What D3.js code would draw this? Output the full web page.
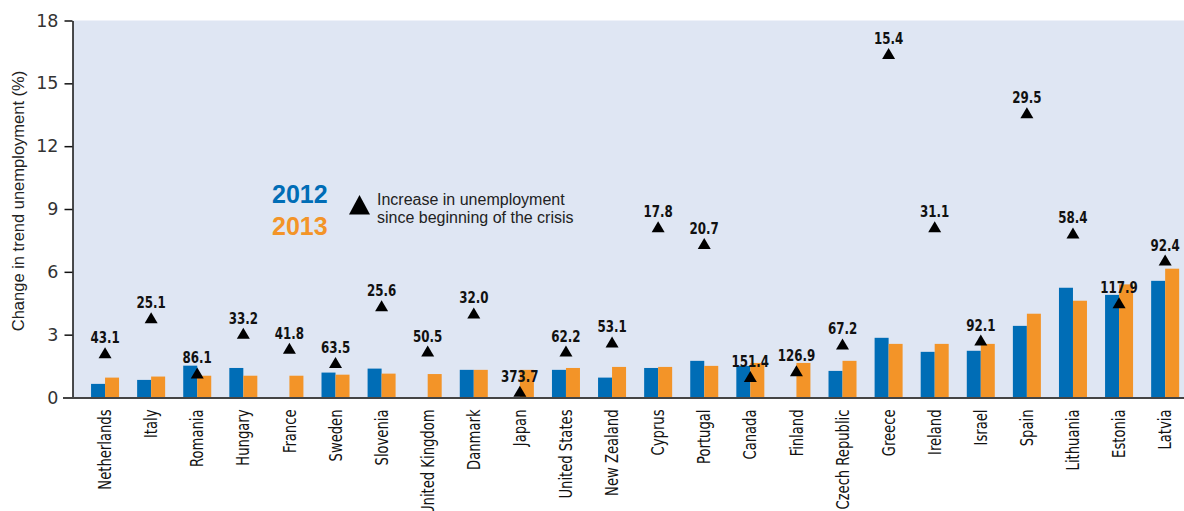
<!DOCTYPE html>
<html>
<head>
<meta charset="utf-8">
<script src="https://cdn.jsdelivr.net/npm/d3@7"></script>
<style>
  html, body { margin: 0; padding: 0; background: #ffffff; }
  svg { display: block; }
</style>
</head>
<body>
<svg id="chart" width="1184" height="511"></svg>
<script>
const countries = ["Netherlands","Italy","Romania","Hungary","France","Sweden","Slovenia","United Kingdom","Danmark","Japan","United States","New Zealand","Cyprus","Portugal","Canada","Finland","Czech Republic","Greece","Ireland","Israel","Spain","Lithuania","Estonia","Latvia"];
const values2012 = [0.65,0.84,1.52,1.41,null,1.19,1.38,null,1.32,null,1.32,0.95,1.41,1.75,1.51,null,1.27,2.85,2.18,2.23,3.42,5.24,4.9,5.57];
const values2013 = [0.95,1.0,1.04,1.04,1.04,1.09,1.14,1.12,1.32,1.32,1.41,1.46,1.46,1.51,1.65,1.65,1.75,2.56,2.56,2.56,4.0,4.62,5.4,6.15];
const triangleValues = [2.14,3.81,1.17,3.07,2.35,1.67,4.38,2.22,4.04,0.3,2.22,2.65,8.15,7.35,1.0,1.28,2.56,16.43,8.15,2.74,13.6,7.86,4.52,6.56];
const triangleLabels = ["43.1","25.1","86.1","33.2","41.8","63.5","25.6","50.5","32.0","373.7","62.2","53.1","17.8","20.7","151.4","126.9","67.2","15.4","31.1","92.1","29.5","58.4","117.9","92.4"];
const yTicks = [0,3,6,9,12,15,18];
const seriesNames = ["2012","2013"];
const yAxisTitle = "Change in trend unemployment (%)";
const legendText = ["Increase in unemployment","since beginning of the crisis"];

const colors = { "2012": "#006db6", "2013": "#f39428" };
const condensed = "'Liberation Sans Narrow','DejaVu Sans Condensed','Arial Narrow',sans-serif";

const svg = d3.select("#chart");

const plot = { left: 73, right: 1184, top: 20.5, bottom: 397.5 };

const y = d3.scaleLinear().domain([0, 18]).range([plot.bottom, plot.top]);
const x = d3.scaleBand().domain(countries).range([82, 1188.2]).paddingInner(0.3925).paddingOuter(0.19625);
const x1 = d3.scaleBand().domain(seriesNames).range([0, x.bandwidth()]);

// background
svg.append("rect")
  .attr("x", plot.left).attr("y", y(18))
  .attr("width", plot.right - plot.left).attr("height", y(0) - y(18))
  .attr("fill", "#dfe6f3");

// bars
const rows = countries.map((c, i) => ({ c, v: { "2012": values2012[i], "2013": values2013[i] } }));
const g = svg.append("g");
rows.forEach(r => {
  seriesNames.forEach(s => {
    const v = r.v[s];
    if (v == null) return;
    g.append("rect")
      .attr("x", x(r.c) + x1(s))
      .attr("y", y(v))
      .attr("width", x1.bandwidth())
      .attr("height", y(0) - y(v))
      .attr("fill", colors[s]);
  });
});

// y axis
const yAxis = d3.axisLeft(y).tickValues(yTicks).tickSize(8).tickSizeOuter(0).tickPadding(6);
const ya = svg.append("g").attr("transform", `translate(${plot.left - 0.5},0)`).call(yAxis);
ya.select(".domain").attr("stroke", "#111").attr("stroke-width", 1.5);
ya.selectAll(".tick line").attr("stroke", "#111").attr("stroke-width", 1.5);
ya.selectAll(".tick text")
  .attr("font-family", "'DejaVu Sans', sans-serif")
  .attr("font-size", 17.5)
  .attr("fill", "#333");

// bottom axis line
svg.append("line")
  .attr("x1", 63).attr("x2", 1184)
  .attr("y1", y(0) + 0.5).attr("y2", y(0) + 0.5)
  .attr("stroke", "#444").attr("stroke-width", 2);

// x labels
const xAxis = d3.axisBottom(x).tickSize(0).tickSizeOuter(0);
const xa = svg.append("g").attr("transform", `translate(0,${y(0)})`).call(xAxis);
xa.select(".domain").remove();
xa.selectAll(".tick text")
  .attr("font-family", condensed)
  .attr("font-size", 17)
  .attr("fill", "#111")
  .attr("text-anchor", "end")
  .attr("transform", "translate(0,12) rotate(-90) scale(0.86,1)")
  .attr("x", 0).attr("y", 0).attr("dy", "0.36em");

// triangles
const tri = svg.append("g");
countries.forEach((c, i) => {
  const cx = x(c) + x.bandwidth() / 2;
  const cy = y(triangleValues[i]);
  tri.append("path")
    .attr("d", `M${cx - 6.5},${cy + 5.5}L${cx},${cy - 5.5}L${cx + 6.5},${cy + 5.5}Z`)
    .attr("fill", "#000");
  tri.append("text")
    .attr("transform", `translate(${cx},${cy - 9.5}) scale(0.88,1)`)
    .attr("text-anchor", "middle")
    .attr("font-family", condensed)
    .attr("font-weight", "bold")
    .attr("font-size", 15)
    .attr("fill", "#111")
    .text(triangleLabels[i]);
});

// y axis title
svg.append("text")
  .attr("transform", `translate(24,${(plot.top + plot.bottom) / 2 - 8}) rotate(-90)`)
  .attr("text-anchor", "middle")
  .attr("font-family", "'Liberation Sans', sans-serif")
  .attr("font-size", 16.5)
  .attr("fill", "#222")
  .text(yAxisTitle);

// legend
const leg = svg.append("g");
leg.append("text").attr("x", 272).attr("y", 203)
  .attr("font-family", "'Liberation Sans', sans-serif").attr("font-weight", "bold").attr("font-size", 25)
  .attr("fill", colors["2012"]).text(seriesNames[0]);
leg.append("text").attr("x", 272).attr("y", 234.5)
  .attr("font-family", "'Liberation Sans', sans-serif").attr("font-weight", "bold").attr("font-size", 25)
  .attr("fill", colors["2013"]).text(seriesNames[1]);
leg.append("path").attr("d", "M349,214.5L359.5,195L370,214.5Z").attr("fill", "#000");
legendText.forEach((t, i) => {
  leg.append("text").attr("x", 377).attr("y", 205 + i * 18)
    .attr("font-family", "'Liberation Sans', sans-serif").attr("font-size", 16)
    .attr("fill", "#222").text(t);
});
</script>
</body>
</html>
